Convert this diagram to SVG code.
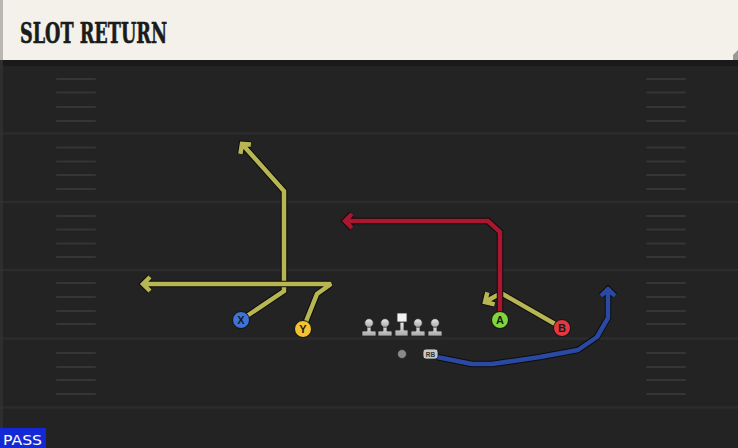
<svg xmlns="http://www.w3.org/2000/svg" xmlns:xlink="http://www.w3.org/1999/xlink" width="738" height="448" viewBox="0 0 738 448">
<style>
.yl{stroke:#34353a;stroke-opacity:0.55;stroke-width:2.5}
.hash{stroke:#353535;stroke-width:2;stroke-linecap:round}
.edge{fill:none;stroke:#0d0d0d;stroke-width:6.5;stroke-linejoin:miter;stroke-miterlimit:3;stroke-linecap:butt}
.ry{fill:none;stroke:#b8b652;stroke-width:4.5;stroke-linejoin:miter;stroke-miterlimit:3;stroke-linecap:butt}
.rr{fill:none;stroke:#a8162f;stroke-width:4.5;stroke-linejoin:miter;stroke-miterlimit:3;stroke-linecap:butt}
.rb{fill:none;stroke:#2a49a3;stroke-width:4.5;stroke-linejoin:round;stroke-linecap:butt}
.pl{stroke:#111;stroke-width:1}
.lt{font-family:"Liberation Sans",Arial,sans-serif;font-weight:bold;font-size:11px;fill:#1a1a1a;text-anchor:middle}
</style>
<defs>
<linearGradient id="olg" x1="0" y1="0" x2="0" y2="1"><stop offset="0" stop-color="#e8e8e8"/><stop offset="1" stop-color="#a9a9a9"/></linearGradient>
<g id="lineman">
<path d="M-2,0 L2,0 L2,7 L6,7 Q7,7 7,8 L7,12 L-7,12 L-7,8 Q-7,7 -6,7 L-2,7 Z" fill="url(#olg)" stroke="#2a2a2a" stroke-width="0.8"/>
<circle cx="0" cy="-1" r="4.3" fill="url(#olg)" stroke="#2a2a2a" stroke-width="0.8"/>
</g>
<path id="pX" d="M241,320 L284,291 L284,191 L242,144 M250.9,144.6 L242,144 L240.4,153.9"/>
<path id="pY" d="M303,329 L317,294 L331,284 L143,284 M150,277 L143,284 L150,291"/>
<path id="pB" d="M562,328 L501,293 L485,302 M494.6,304.4 L485,302 L487.4,292.4"/>
<path id="pA" d="M500,320 L500,232 L488,221 L345,221 M352,214 L345,221 L352,228"/>
<path id="pR" d="M437,357 L472,364 L492,364 L540,357 L578,350 L597,337 L608,318 L608,289 M601,296 L608,289 L615,296"/>
</defs>
<rect width="738" height="448" fill="#232323"/>
<rect x="0" y="60" width="738" height="6" fill="#1a1a1a"/>
<rect x="0" y="60" width="3" height="388" fill="#2e2e2e"/>
<g id="field">
<line class="yl" x1="0" y1="133.5" x2="738" y2="133.5"/>
<line class="yl" x1="0" y1="202" x2="738" y2="202"/>
<line class="yl" x1="0" y1="270" x2="738" y2="270"/>
<line class="yl" x1="0" y1="338.5" x2="738" y2="338.5"/>
<line class="yl" x1="0" y1="407.5" x2="738" y2="407.5"/>
<g class="hash">
<path d="M57,79H95M57,92.5H95M57,107H95M57,121H95M57,147.5H95M57,161.5H95M57,175H95M57,189H95M57,216H95M57,229.5H95M57,243.5H95M57,257H95M57,283H95M57,297H95M57,311H95M57,324H95M57,353H95M57,367H95M57,380H95M57,394H95"/>
<path d="M647,79H685M647,92.5H685M647,107H685M647,121H685M647,147.5H685M647,161.5H685M647,175H685M647,189H685M647,216H685M647,229.5H685M647,243.5H685M647,257H685M647,283H685M647,297H685M647,311H685M647,324H685M647,353H685M647,367H685M647,380H685M647,394H685"/>
</g>
</g>
<g id="header">
<polygon points="0,0 738,0 738,52 733,60 0,60" fill="#f4f1ea"/>
<rect x="0" y="0" width="3" height="60" fill="#b9b7b2"/>
<polygon points="733,55 738,50 738,60 733,60" fill="#9a9894"/>
<text x="20" y="43" font-family="'DejaVu Serif',serif" font-weight="900" font-size="27" fill="#1b1b1b" stroke="#1b1b1b" stroke-width="0.6" textLength="147" lengthAdjust="spacingAndGlyphs">SLOT RETURN</text>
</g>
<g id="connectors">
<use xlink:href="#pX" class="edge"/>
<use xlink:href="#pX" class="ry"/>
<use xlink:href="#pY" class="edge"/>
<use xlink:href="#pY" class="ry"/>
<use xlink:href="#pB" class="edge"/>
<use xlink:href="#pB" class="ry"/>
<use xlink:href="#pA" class="edge"/>
<use xlink:href="#pA" class="rr"/>
<use xlink:href="#pR" class="edge"/>
<use xlink:href="#pR" class="rb"/>
</g>
<g id="line">
<use xlink:href="#lineman" x="369" y="324"/>
<use xlink:href="#lineman" x="385" y="324"/>
<g id="center">
<path d="M400,322 L404,322 L404,330 L408,330 L408,336 L395,336 L395,330 L400,330 Z" fill="url(#olg)" stroke="#2a2a2a" stroke-width="0.8"/>
<rect x="397" y="313" width="10" height="9" fill="#f2f2f2" stroke="#2a2a2a" stroke-width="0.8"/>
</g>
<use xlink:href="#lineman" x="418" y="324"/>
<use xlink:href="#lineman" x="435" y="324"/>
</g>
<g id="QB"><circle cx="402" cy="354" r="4.5" fill="#8a8a8a" stroke="#222" stroke-width="0.8"/></g>
<g id="RB">
<rect x="423" y="349" width="15" height="10" rx="3" fill="#c9c9c9" stroke="#222" stroke-width="0.8"/>
<text x="430.5" y="357" font-family="'Liberation Sans',Arial,sans-serif" font-weight="bold" font-size="6.5" fill="#333" text-anchor="middle">RB</text>
</g>
<g id="X"><circle class="pl" cx="241" cy="320" r="8.5" fill="#3e74d6"/><text class="lt" x="241" y="324">X</text></g>
<g id="Y"><circle class="pl" cx="303" cy="329" r="8.5" fill="#f1c232"/><text class="lt" x="303" y="333">Y</text></g>
<g id="A"><circle class="pl" cx="500" cy="320" r="8.5" fill="#7fd63c"/><text class="lt" x="500" y="324">A</text></g>
<g id="B"><circle class="pl" cx="562" cy="328" r="8.5" fill="#e2383f"/><text class="lt" x="562" y="332">B</text></g>
<g id="pass">
<rect x="0" y="428" width="46" height="20" fill="#1329d6"/>
<text x="3" y="444.5" font-family="'DejaVu Sans','Liberation Sans',sans-serif" font-size="14" fill="#ffffff" textLength="39" lengthAdjust="spacingAndGlyphs">PASS</text>
</g>
</svg>
